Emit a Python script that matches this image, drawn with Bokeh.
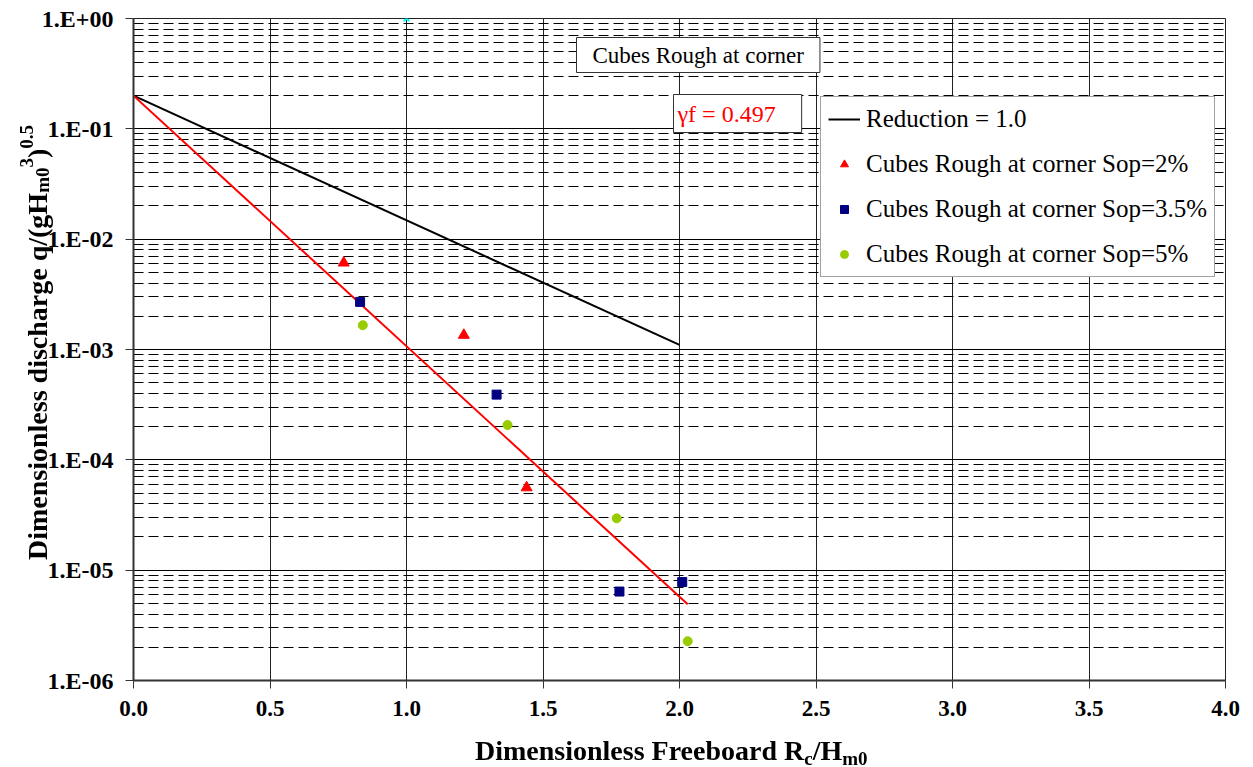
from bokeh.plotting import figure
from bokeh.models import Range1d, FixedTicker, Label, Legend, LegendItem, Div
from bokeh.layouts import row
from bokeh.embed import file_html
from bokeh.resources import INLINE

# ---------------- data ----------------
x_ticks = [0.0, 0.5, 1.0, 1.5, 2.0, 2.5, 3.0, 3.5, 4.0]
x_tick_labels = ["0.0", "0.5", "1.0", "1.5", "2.0", "2.5", "3.0", "3.5", "4.0"]
y_ticks = [1e-6, 1e-5, 1e-4, 1e-3, 1e-2, 1e-1, 1.0]
y_tick_labels = ["1.E-06", "1.E-05", "1.E-04", "1.E-03", "1.E-02", "1.E-01", "1.E+00"]

ref_x = [0.0, 2.0]            # Reduction = 1.0
ref_y = [0.2, 1.1e-3]
fit_x = [0.0, 2.03]           # gamma_f = 0.497
fit_y = [0.2, 4.9e-6]

sop2_x = [0.77, 1.21, 1.44]
sop2_y = [6.1e-3, 1.35e-3, 5.6e-5]
sop35_x = [0.83, 1.33, 1.78, 2.01]
sop35_y = [2.7e-3, 3.9e-4, 6.4e-6, 7.8e-6]
sop5_x = [0.84, 1.37, 1.77, 2.03]
sop5_y = [1.66e-3, 2.07e-4, 2.95e-5, 2.27e-6]
marker_x = [1.0]
marker_y = [1.0]

FONT = "Liberation Serif"
W, H = 1253, 767

# ---------------- figure ----------------
p = figure(width=W, height=H, y_axis_type="log",
           x_range=Range1d(0, 4), y_range=Range1d(1e-6, 1),
           output_backend="svg", toolbar_location=None,
           min_border_left=133, min_border_right=28,
           min_border_top=18, min_border_bottom=87)
p.background_fill_color = "white"
p.border_fill_color = "white"
p.outline_line_color = "#222222"
p.outline_line_width = 1

minor = [k * 10.0 ** e for e in range(-6, 0) for k in range(2, 10)]
xt = FixedTicker(ticks=x_ticks)
yt = FixedTicker(ticks=y_ticks, minor_ticks=minor)
p.xaxis.ticker = xt
p.xgrid.ticker = xt
p.yaxis.ticker = yt
p.ygrid.ticker = yt
p.xaxis.major_label_overrides = dict(zip(x_ticks, x_tick_labels))
p.yaxis.major_label_overrides = dict(zip(y_ticks, y_tick_labels))

for ax in (p.xaxis, p.yaxis):
    ax.axis_line_color = "#333333"
    ax.axis_line_width = 2
    ax.major_tick_line_color = "#333333"
    ax.major_tick_out = 8
    ax.major_tick_in = 0
    ax.minor_tick_line_color = None
    ax.major_label_text_font = FONT
    ax.major_label_text_font_style = "bold"
    ax.major_label_text_color = "black"
p.xaxis.major_label_text_font_size = "23px"
p.yaxis.major_label_text_font_size = "24px"
p.xaxis.major_label_standoff = 12
p.yaxis.major_label_standoff = 12

p.xgrid.grid_line_color = "#222222"
p.xgrid.grid_line_width = 1
p.ygrid.grid_line_color = "black"
p.ygrid.grid_line_width = 1
p.ygrid.minor_grid_line_color = "black"
p.ygrid.minor_grid_line_dash = "10 5"
p.ygrid.minor_grid_line_width = 1

# ---------------- glyphs ----------------
r_ref = p.line(ref_x, ref_y, line_color="black", line_width=2)
p.line(fit_x, fit_y, line_color="red", line_width=2)
r2 = p.scatter(sop2_x, sop2_y, marker="triangle", size=11, fill_color="red", line_color="red")
r35 = p.scatter(sop35_x, sop35_y, marker="square", size=9, fill_color="#000080", line_color="#000080")
r5 = p.scatter(sop5_x, sop5_y, marker="circle", size=9, fill_color="#99CC00", line_color="#99CC00")
p.scatter(marker_x, marker_y, marker="x", size=8, line_color="#00FFFF", line_width=2)

legend = Legend(items=[
    LegendItem(label="Reduction = 1.0", renderers=[r_ref]),
    LegendItem(label="Cubes Rough at corner Sop=2%", renderers=[r2]),
    LegendItem(label="Cubes Rough at corner Sop=3.5%", renderers=[r35]),
    LegendItem(label="Cubes Rough at corner Sop=5%", renderers=[r5]),
], location=(687, 403))
legend.label_text_font = FONT
legend.label_text_font_size = "25px"
legend.label_text_color = "black"
legend.border_line_color = "#444444"
legend.border_line_width = 1
legend.background_fill_color = "white"
legend.background_fill_alpha = 1.0
legend.padding = 7
legend.spacing = 15
legend.margin = 0
legend.label_height = 30
legend.glyph_height = 20
legend.glyph_width = 32
legend.label_standoff = 6
p.add_layout(legend, "center")

# ---------------- boxed texts ----------------
title_box = Label(x=443, y=643, x_units="screen", y_units="screen",
                  text="Cubes Rough at corner", anchor="top_left",
                  text_font=FONT, text_font_size="23px", text_color="black",
                  background_fill_color="white", border_line_color="#333333",
                  border_line_width=1,
                  padding=dict(left=16, right=16, top=5, bottom=5))
p.add_layout(title_box)

gamma_box = Label(x=540, y=586, x_units="screen", y_units="screen",
                  text="γf = 0.497", anchor="top_left",
                  text_font=FONT, text_font_size="24px", text_color="red",
                  background_fill_color="white", border_line_color="#333333",
                  border_line_width=1,
                  padding=dict(left=4, right=26, top=6, bottom=6))
p.add_layout(gamma_box)

# ---------------- axis titles (HTML overlay, with sub/superscripts) ----------------
SUB = '<sub style="font-size:19px;line-height:0;vertical-align:-5px">'
SUP = '<sup style="font-size:19px;line-height:0;vertical-align:11px">'
x_title_html = 'Dimensionless Freeboard R' + SUB + 'c</sub>/H' + SUB + 'm0</sub>'
y_title_html = ('Dimensionless discharge q/(gH' + SUB + 'm0</sub>' + SUP + '3</sup>)'
                + SUP + '0.5</sup>')

base_style = (f"font-family:'{FONT}';font-size:28px;font-weight:bold;color:black;"
              "white-space:nowrap;line-height:32px;box-sizing:border-box;margin:0;")

overlay_html = (
    f'<div style="{base_style}position:fixed;left:475px;top:735px;">'
    + x_title_html + '</div>'
    + f'<div style="{base_style}position:fixed;left:0px;top:0px;width:60px;height:{H}px;'
    'writing-mode:vertical-rl;transform:rotate(180deg);'
    f'padding-top:{H - 560}px;padding-right:22px;">'
    + y_title_html + '</div>'
)
overlay = Div(width=0, height=0, margin=0, text=overlay_html)

layout = row(p, overlay, spacing=0)

open("out.html", "w").write(file_html(layout, INLINE))
